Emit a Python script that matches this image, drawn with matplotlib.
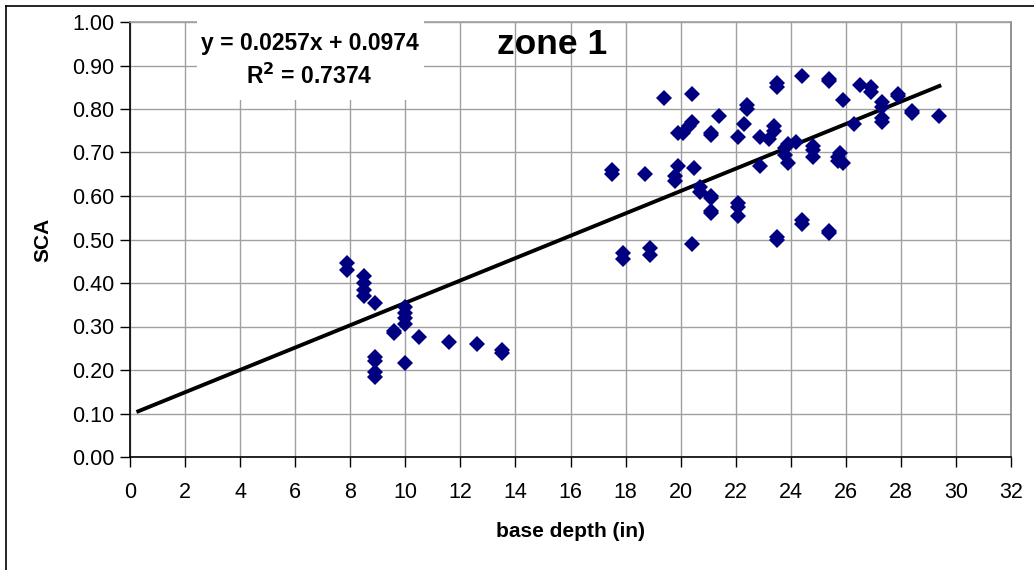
import matplotlib

matplotlib.use("Agg")

import matplotlib.pyplot as plt
from matplotlib.lines import Line2D
from matplotlib.patches import Rectangle
import numpy as np

plt.rcParams["font.family"] = ["Liberation Sans", "DejaVu Sans"]

# base depth (in) and SCA
depth = [
    7.9, 7.9, 8.5, 8.5, 8.5, 8.5, 8.9, 9.6, 9.6, 10.0, 10.0, 10.0, 10.0,
    8.9, 8.9, 8.9, 8.9, 10.0, 10.5, 11.6, 12.6, 13.5, 13.5,
    17.5, 17.5, 17.9, 17.9, 18.7, 18.9, 18.9, 19.4, 19.8, 19.8, 19.9, 19.9,
    20.1, 20.3, 20.4, 20.4, 20.4, 20.5, 20.7, 20.7, 21.1, 21.1, 21.1, 21.1,
    21.1, 21.1, 21.4, 22.1, 22.1, 22.1, 22.1, 22.3, 22.4, 22.4, 22.9, 22.9,
    23.2, 23.4, 23.4, 23.5, 23.5, 23.5, 23.5, 23.8, 23.8, 23.9, 23.9, 24.2,
    24.4, 24.4, 24.4, 24.8, 24.8, 24.8, 25.4, 25.4, 25.4, 25.4, 25.7, 25.7,
    25.8, 25.9, 25.9, 26.3, 26.5, 26.9, 26.9, 27.3, 27.3, 27.3, 27.3, 27.9,
    27.9, 28.4, 28.4, 29.4,
]
sca = [
    0.445, 0.43, 0.415, 0.40, 0.385, 0.37, 0.355, 0.29, 0.285, 0.345, 0.33, 0.32, 0.305,
    0.23, 0.22, 0.195, 0.185, 0.215, 0.275, 0.265, 0.26, 0.245, 0.24,
    0.66, 0.65, 0.47, 0.455, 0.65, 0.48, 0.465, 0.825, 0.645, 0.635, 0.745, 0.67,
    0.745, 0.76, 0.835, 0.77, 0.49, 0.665, 0.62, 0.61, 0.745, 0.74, 0.60, 0.595,
    0.565, 0.56, 0.785, 0.735, 0.585, 0.575, 0.555, 0.765, 0.81, 0.80, 0.735, 0.67,
    0.73, 0.76, 0.75, 0.86, 0.85, 0.505, 0.50, 0.71, 0.695, 0.675, 0.72, 0.725,
    0.875, 0.545, 0.535, 0.715, 0.705, 0.69, 0.87, 0.865, 0.52, 0.515, 0.69, 0.68,
    0.70, 0.675, 0.82, 0.765, 0.855, 0.85, 0.84, 0.815, 0.805, 0.78, 0.77, 0.835,
    0.83, 0.795, 0.79, 0.785,
]

# trendline as reported in the chart
slope = 0.0257
intercept = 0.0974
r_squared = 0.7374
trend_range = [0.3, 29.4]

fig = plt.figure(figsize=(10.34, 5.70), dpi=100)
ax = fig.add_axes([130 / 1034, 1 - 457 / 570, (1011 - 130) / 1034, (457 - 22) / 570])

grid_color = "#a0a0a0"
ax.set_axisbelow(True)
ax.grid(True, color=grid_color, linewidth=1.0)

trend_x = np.array(trend_range)
ax.plot(trend_x, slope * trend_x + intercept, color="black", linewidth=2.8, zorder=2)
ax.plot(depth, sca, linestyle="none", marker="D", markersize=8,
        color="#000080", markeredgewidth=0, zorder=3)

ax.set_xlim(0, 32)
ax.set_ylim(0, 1.0)
ax.set_xticks(range(0, 33, 2))
ax.set_yticks(np.arange(0, 1.01, 0.1))
ax.set_yticklabels([f"{v:.2f}" for v in np.arange(0, 1.01, 0.1)])
ax.tick_params(axis="both", direction="out", length=7, width=1, labelsize=15.5, color="black")
ax.tick_params(axis="x", pad=11)
ax.tick_params(axis="y", pad=4)

ax.spines["left"].set_color("black")
ax.spines["bottom"].set_color("black")
ax.spines["right"].set_color("#808080")
ax.spines["top"].set_color(grid_color)
for spine in ax.spines.values():
    spine.set_linewidth(1.2)

ax.set_xlabel("base depth (in)", fontsize=15, fontweight="bold", labelpad=14)
ax.set_ylabel("SCA", fontsize=15, fontweight="bold", labelpad=14)

# white label box that hides the grid behind the regression equation
ax.add_patch(Rectangle((0.076, 0.821), 0.258, 0.19, transform=ax.transAxes,
                       facecolor="white", edgecolor="none", clip_on=False, zorder=3.5))
ax.text(0.204, 0.912, f"y = {slope:.4f}x + {intercept:.4f}\nR$^\\mathbf{{2}}$ = {r_squared:.4f}",
        transform=ax.transAxes, ha="center", va="center", fontsize=16.5, fontweight="bold",
        linespacing=1.4, zorder=4)
ax.text(0.479, 0.949, "zone 1", transform=ax.transAxes, ha="center", va="center",
        fontsize=25.5, fontweight="bold", zorder=4)

# chart-area border (only left and top edges fall inside the picture)
fig.add_artist(Line2D([6 / 1034, 6 / 1034], [0, 1 - 6 / 570], color="black", linewidth=1.2))
fig.add_artist(Line2D([6 / 1034, 1], [1 - 6 / 570, 1 - 6 / 570], color="black", linewidth=1.2))

fig.savefig("out.png", dpi=100)
